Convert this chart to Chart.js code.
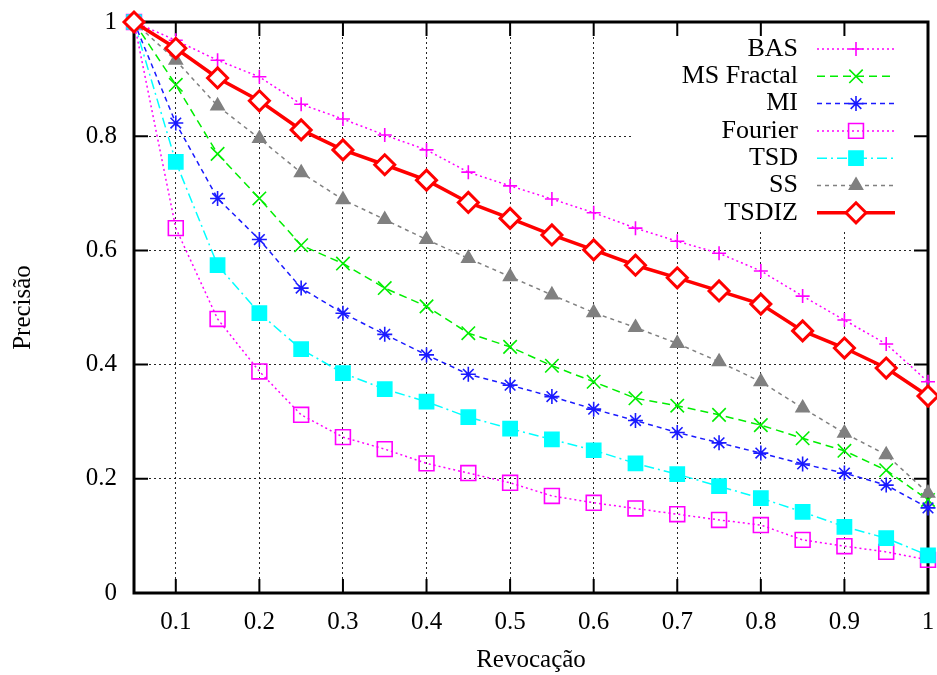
<!DOCTYPE html>
<html>
<head>
<meta charset="utf-8">
<script src="https://cdn.jsdelivr.net/npm/chart.js@4.4.1/dist/chart.umd.min.js"></script>
<style>
  html, body { margin: 0; padding: 0; background: #fff; }
  #wrap { width: 937px; height: 675px; }
</style>
</head>
<body>
<div id="wrap"><canvas id="prChart" width="937" height="675"></canvas></div>
<script>
// recall points (x axis)
const recall = [0.05, 0.1, 0.15, 0.2, 0.25, 0.3, 0.35, 0.4, 0.45, 0.5, 0.55, 0.6, 0.65, 0.7, 0.75, 0.8, 0.85, 0.9, 0.95, 1];

// precision per method
const bas       = [1, 0.968, 0.933, 0.904, 0.856, 0.830, 0.802, 0.776, 0.737, 0.713, 0.690, 0.666, 0.639, 0.616, 0.595, 0.564, 0.520, 0.478, 0.436, 0.370];
const msFractal = [1, 0.890, 0.769, 0.691, 0.609, 0.577, 0.534, 0.502, 0.455, 0.431, 0.398, 0.370, 0.341, 0.328, 0.312, 0.294, 0.271, 0.249, 0.215, 0.163];
const mi        = [1, 0.823, 0.691, 0.619, 0.534, 0.490, 0.453, 0.417, 0.383, 0.364, 0.344, 0.322, 0.302, 0.281, 0.263, 0.245, 0.226, 0.210, 0.189, 0.149];
const fourier   = [1, 0.639, 0.480, 0.388, 0.312, 0.273, 0.252, 0.227, 0.210, 0.193, 0.170, 0.158, 0.148, 0.138, 0.128, 0.119, 0.093, 0.082, 0.072, 0.058];
const tsd       = [1, 0.755, 0.574, 0.490, 0.427, 0.385, 0.357, 0.335, 0.308, 0.288, 0.269, 0.250, 0.227, 0.208, 0.187, 0.166, 0.142, 0.116, 0.096, 0.066];
const ss        = [1, 0.933, 0.853, 0.796, 0.736, 0.689, 0.654, 0.619, 0.586, 0.554, 0.522, 0.491, 0.465, 0.437, 0.405, 0.370, 0.324, 0.280, 0.242, 0.175];
const tsdiz     = [1, 0.954, 0.902, 0.862, 0.811, 0.776, 0.750, 0.723, 0.684, 0.656, 0.627, 0.601, 0.574, 0.552, 0.529, 0.506, 0.459, 0.429, 0.394, 0.345];

const xTicks = [0.1, 0.2, 0.3, 0.4, 0.5, 0.6, 0.7, 0.8, 0.9, 1];
const yTicks = [0, 0.2, 0.4, 0.6, 0.8, 1];
const xLabels = ['0.1', '0.2', '0.3', '0.4', '0.5', '0.6', '0.7', '0.8', '0.9', '1'];
const yLabels = ['0', '0.2', '0.4', '0.6', '0.8', '1'];

const FONT = '"Liberation Serif", "DejaVu Serif", serif';

function pts(values) {
    return values.map((v, i) => ({ x: recall[i], y: v }));
}

function series(label, values, color, dash, style, radius, opts) {
    return Object.assign({
        label: label,
        data: pts(values),
        borderColor: color,
        borderWidth: 1.5,
        borderDash: dash,
        pointStyle: style,
        pointRadius: radius,
        pointHoverRadius: radius,
        pointBorderColor: color,
        pointBackgroundColor: 'rgba(0,0,0,0)',
        pointBorderWidth: 1.6,
        tension: 0,
        clip: false
    }, opts || {});
}

const datasets = [
    series('BAS', bas, '#ff00ff', [2, 3], 'cross', 7),
    series('MS Fractal', msFractal, '#00ee00', [8, 5], 'crossRot', 9.5),
    series('MI', mi, '#1a1aff', [5, 4], 'star', 7.5),
    series('Fourier', fourier, '#ff00ff', [2, 3], 'rect', 10.5),
    series('TSD', tsd, '#00ffff', [10, 4, 2, 4], 'rect', 10, { pointBackgroundColor: '#00ffff' }),
    series('SS', ss, '#808080', [4, 4], 'triangle', 7.5, { pointBackgroundColor: '#808080' }),
    series('TSDIZ', tsdiz, '#ff0000', [], 'rectRot', 10, { borderWidth: 3.5, pointBorderWidth: 3, pointBackgroundColor: '#ffffff' })
];
// later series on top, like gnuplot
datasets.forEach((ds, i) => { ds.order = datasets.length - 1 - i; });

// gnuplot-like frame, inward ticks and key box
const framePlugin = {
    id: 'frame',
    beforeDatasetsDraw(chart) {
        const ctx = chart.ctx;
        const a = chart.chartArea;
        const xs = chart.scales.x, ys = chart.scales.y;
        ctx.save();
        // key box hides the grid under it
        ctx.fillStyle = '#fff';
        ctx.fillRect(634, a.top + 2, a.right - 636, 208);
        ctx.strokeStyle = '#000';
        ctx.lineWidth = 2;
        xTicks.forEach(v => {
            const px = xs.getPixelForValue(v);
            ctx.beginPath();
            ctx.moveTo(px, a.bottom); ctx.lineTo(px, a.bottom - 14);
            ctx.moveTo(px, a.top); ctx.lineTo(px, a.top + 14);
            ctx.stroke();
        });
        yTicks.forEach(v => {
            const py = ys.getPixelForValue(v);
            ctx.beginPath();
            ctx.moveTo(a.left, py); ctx.lineTo(a.left + 14, py);
            ctx.moveTo(a.right, py); ctx.lineTo(a.right - 14, py);
            ctx.stroke();
        });
        ctx.lineWidth = 3;
        ctx.strokeRect(a.left, a.top, a.right - a.left, a.bottom - a.top);
        ctx.restore();
    },
    afterDatasetsDraw(chart) {
        const ctx = chart.ctx;
        chart.data.datasets.forEach((ds, i) => {
            const y = 49 + i * 27.3;
            ctx.save();
            ctx.font = '26px ' + FONT;
            ctx.fillStyle = '#000';
            ctx.textAlign = 'right';
            ctx.textBaseline = 'middle';
            ctx.fillText(ds.label, 798, y);
            ctx.strokeStyle = ds.borderColor;
            ctx.lineWidth = ds.borderWidth;
            ctx.setLineDash(ds.borderDash);
            ctx.beginPath();
            ctx.moveTo(817, y); ctx.lineTo(895, y);
            ctx.stroke();
            ctx.setLineDash([]);
            ctx.fillStyle = ds.pointBackgroundColor;
            ctx.strokeStyle = ds.pointBorderColor;
            ctx.lineWidth = ds.pointBorderWidth;
            Chart.helpers.drawPoint(ctx, { pointStyle: ds.pointStyle, radius: ds.pointRadius, borderWidth: ds.pointBorderWidth, rotation: 0 }, 856, y);
            ctx.restore();
        });
    }
};

const gridColor = edges => c => (c.tick && edges.includes(c.tick.value)) ? 'rgba(0,0,0,0)' : 'rgba(0,0,0,0.85)';

new Chart(document.getElementById('prChart').getContext('2d'), {
    type: 'line',
    data: { datasets: datasets },
    options: {
        responsive: false,
        animation: false,
        events: [],
        layout: { autoPadding: false, padding: { top: 22, right: 9, left: 0, bottom: 0 } },
        plugins: { legend: { display: false }, tooltip: { enabled: false } },
        scales: {
            x: {
                type: 'linear',
                min: 0.05,
                max: 1,
                afterBuildTicks: s => { s.ticks = xTicks.map(v => ({ value: v })); },
                afterFit: s => { s.height = 82; s.paddingLeft = 0; s.paddingRight = 0; },
                grid: { color: gridColor([1]), lineWidth: 1, drawTicks: false },
                border: { display: false, dash: [2, 3] },
                ticks: {
                    autoSkip: false,
                    maxRotation: 0,
                    padding: 14,
                    color: '#000',
                    font: { family: FONT, size: 25 },
                    callback: v => xLabels[xTicks.indexOf(v)]
                },
                title: {
                    display: true,
                    text: 'Revocação',
                    color: '#000',
                    font: { family: FONT, size: 25 },
                    padding: { top: 0, bottom: 0 }
                }
            },
            y: {
                min: 0,
                max: 1,
                afterBuildTicks: s => { s.ticks = yTicks.map(v => ({ value: v })); },
                afterFit: s => { s.width = 134; s.paddingTop = 0; s.paddingBottom = 0; },
                grid: { color: gridColor([0, 1]), lineWidth: 1, drawTicks: false },
                border: { display: false, dash: [2, 3] },
                ticks: {
                    padding: 17,
                    color: '#000',
                    font: { family: FONT, size: 25 },
                    callback: v => yLabels[yTicks.indexOf(v)]
                },
                title: {
                    display: true,
                    text: 'Precisão',
                    color: '#000',
                    font: { family: FONT, size: 25 },
                    padding: { top: 8, bottom: 0 }
                }
            }
        }
    },
    plugins: [framePlugin]
});
</script>
</body>
</html>
